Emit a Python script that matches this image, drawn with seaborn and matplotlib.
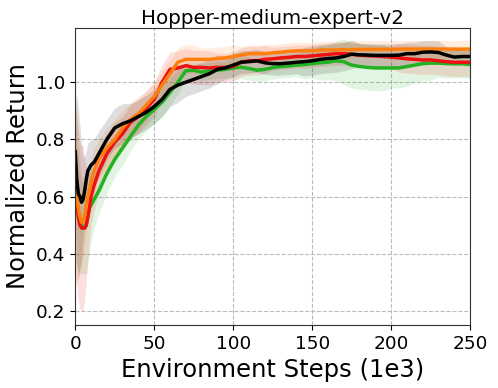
import numpy as np
import pandas as pd
import matplotlib
matplotlib.use("Agg")
import matplotlib.pyplot as plt
import seaborn as sns

steps = [0, 1, 2, 3, 4, 5, 6, 7, 8, 9, 10, 12, 15, 20, 25, 30, 35, 40, 45, 50,
         55, 60, 65, 70, 75, 80, 85, 90, 95, 100, 105, 110, 115, 120, 125, 130,
         135, 140, 145, 150, 155, 160, 165, 170, 175, 180, 185, 190, 195, 200,
         205, 210, 215, 220, 225, 230, 235, 240, 245, 250]

green_mean = [0.62, 0.58, 0.54, 0.51, 0.50, 0.49, 0.49, 0.50, 0.53, 0.56, 0.57, 0.59, 0.62, 0.68, 0.73, 0.77, 0.81, 0.85, 0.88, 0.905,
              0.93, 0.965, 1.0, 1.04, 1.042, 1.035, 1.04, 1.042, 1.045, 1.05, 1.053, 1.048, 1.042, 1.045, 1.051, 1.055,
              1.057, 1.06, 1.062, 1.065, 1.068, 1.07, 1.075, 1.072, 1.06, 1.055, 1.052, 1.05, 1.05, 1.05,
              1.05, 1.055, 1.06, 1.065, 1.067, 1.067, 1.065, 1.065, 1.065, 1.062]
green_std = [0.25, 0.22, 0.2, 0.18, 0.17, 0.16, 0.16, 0.17, 0.17, 0.15, 0.13, 0.1, 0.08, 0.07, 0.06, 0.06, 0.05, 0.05, 0.05, 0.05,
             0.05, 0.05, 0.04, 0.03, 0.03, 0.03, 0.03, 0.03, 0.03, 0.04, 0.04, 0.04, 0.04, 0.04, 0.04, 0.04,
             0.04, 0.04, 0.05, 0.05, 0.06, 0.06, 0.07, 0.08, 0.08, 0.08, 0.08, 0.08, 0.08, 0.07,
             0.07, 0.07, 0.06, 0.06, 0.06, 0.05, 0.05, 0.05, 0.05, 0.05]

red_mean = [0.62, 0.58, 0.53, 0.50, 0.49, 0.49, 0.49, 0.50, 0.53, 0.56, 0.60, 0.64, 0.69, 0.75, 0.79, 0.82, 0.86, 0.88, 0.91, 0.94,
            1.0, 1.045, 1.05, 1.058, 1.052, 1.052, 1.05, 1.052, 1.052, 1.055, 1.07, 1.075, 1.075, 1.08, 1.082, 1.085,
            1.087, 1.09, 1.09, 1.092, 1.095, 1.097, 1.1, 1.1, 1.098, 1.095, 1.093, 1.092, 1.09, 1.088,
            1.085, 1.082, 1.08, 1.078, 1.078, 1.075, 1.072, 1.07, 1.07, 1.07]
red_std = [0.3, 0.3, 0.3, 0.29, 0.29, 0.29, 0.25, 0.2, 0.15, 0.12, 0.1, 0.09, 0.08, 0.07, 0.07, 0.06, 0.06, 0.06, 0.06, 0.06,
           0.06, 0.06, 0.06, 0.06, 0.06, 0.06, 0.06, 0.05, 0.05, 0.05, 0.05, 0.05, 0.05, 0.05, 0.04, 0.04,
           0.04, 0.04, 0.04, 0.04, 0.04, 0.04, 0.04, 0.04, 0.04, 0.04, 0.04, 0.04, 0.04, 0.04,
           0.05, 0.05, 0.05, 0.05, 0.05, 0.05, 0.05, 0.05, 0.05, 0.05]

orange_mean = [0.63, 0.60, 0.56, 0.53, 0.51, 0.51, 0.53, 0.57, 0.60, 0.62, 0.65, 0.69, 0.73, 0.77, 0.80, 0.84, 0.87, 0.89, 0.92, 0.95,
               0.99, 1.03, 1.07, 1.08, 1.08, 1.08, 1.08, 1.083, 1.085, 1.09, 1.095, 1.10, 1.10, 1.10, 1.103, 1.105,
               1.108, 1.11, 1.11, 1.11, 1.112, 1.113, 1.113, 1.114, 1.114, 1.115, 1.115, 1.115, 1.115, 1.115,
               1.116, 1.116, 1.116, 1.116, 1.116, 1.116, 1.116, 1.116, 1.116, 1.116]
orange_std = [0.3, 0.3, 0.25, 0.2, 0.15, 0.12, 0.1, 0.1, 0.09, 0.09, 0.08, 0.08, 0.07, 0.07, 0.07, 0.06, 0.06, 0.06, 0.05, 0.05,
              0.05, 0.05, 0.05, 0.05, 0.05, 0.04, 0.04, 0.04, 0.04, 0.04, 0.03, 0.03, 0.03, 0.03, 0.03, 0.03,
              0.03, 0.03, 0.03, 0.03, 0.03, 0.03, 0.03, 0.03, 0.03, 0.03, 0.03, 0.03, 0.03, 0.03,
              0.03, 0.03, 0.03, 0.03, 0.03, 0.03, 0.03, 0.03, 0.03, 0.03]

black_mean = [0.76, 0.66, 0.61, 0.60, 0.58, 0.59, 0.62, 0.66, 0.69, 0.70, 0.71, 0.72, 0.75, 0.80, 0.84, 0.855, 0.865, 0.88, 0.895, 0.915,
              0.94, 0.975, 0.99, 1.0, 1.01, 1.02, 1.03, 1.045, 1.05, 1.06, 1.07, 1.072, 1.075, 1.068, 1.065, 1.065,
              1.067, 1.07, 1.072, 1.075, 1.08, 1.083, 1.085, 1.09, 1.098, 1.096, 1.095, 1.094, 1.094, 1.094,
              1.095, 1.1, 1.1, 1.105, 1.106, 1.104, 1.095, 1.088, 1.09, 1.09]
black_std = [0.17, 0.3, 0.3, 0.25, 0.2, 0.15, 0.12, 0.1, 0.1, 0.09, 0.09, 0.08, 0.08, 0.07, 0.07, 0.07, 0.06, 0.06, 0.06, 0.06,
             0.06, 0.06, 0.06, 0.05, 0.05, 0.05, 0.05, 0.05, 0.04, 0.04, 0.04, 0.04, 0.04, 0.04, 0.04, 0.04,
             0.04, 0.04, 0.05, 0.05, 0.05, 0.05, 0.05, 0.05, 0.05, 0.04, 0.04, 0.04, 0.04, 0.04,
             0.04, 0.04, 0.04, 0.04, 0.04, 0.04, 0.03, 0.03, 0.03, 0.03]

series = [
    ("green", green_mean, green_std, "#22b222"),
    ("red", red_mean, red_std, "#ee1111"),
    ("orange", orange_mean, orange_std, "#ff7f0e"),
    ("black", black_mean, black_std, "#000000"),
]

sns.set_style("ticks")
plt.rcParams['font.family'] = ['DejaVu Sans']
plt.rcParams['text.color'] = 'black'
plt.rcParams['axes.labelcolor'] = 'black'
plt.rcParams['xtick.color'] = 'black'
plt.rcParams['ytick.color'] = 'black'

fig = plt.figure(figsize=(4.98, 3.88), dpi=100)
ax = fig.add_axes([0.151, 0.162, 0.793, 0.766])

x = np.array(steps, dtype=float)
for name, m, s, c in series:
    m = np.array(m); s = np.array(s)
    ax.fill_between(x, m - s, m + s, color=c, alpha=0.13, linewidth=0)
for name, m, s, c in series:
    df = pd.DataFrame({"step": x, "ret": m})
    sns.lineplot(data=df, x="step", y="ret", color=c, linewidth=2.5, ax=ax, errorbar=None)

ax.set_xlim(0, 250)
ax.set_ylim(0.15, 1.19)
ax.set_xticks([0, 50, 100, 150, 200, 250])
ax.set_yticks([0.2, 0.4, 0.6, 0.8, 1.0])
ax.grid(True, linestyle='--', color='#bbbbbb', linewidth=0.8)
ax.tick_params(labelsize=13.3, colors='black')
ax.set_xlabel("Environment Steps (1e3)", fontsize=17.5, color='black')
ax.set_ylabel("Normalized Return", fontsize=17.5, color='black')
ax.set_title("Hopper-medium-expert-v2", fontsize=14.3, pad=3, color='black')
for sp in ax.spines.values():
    sp.set_color('#333333')

fig.savefig("out.png", dpi=100)
